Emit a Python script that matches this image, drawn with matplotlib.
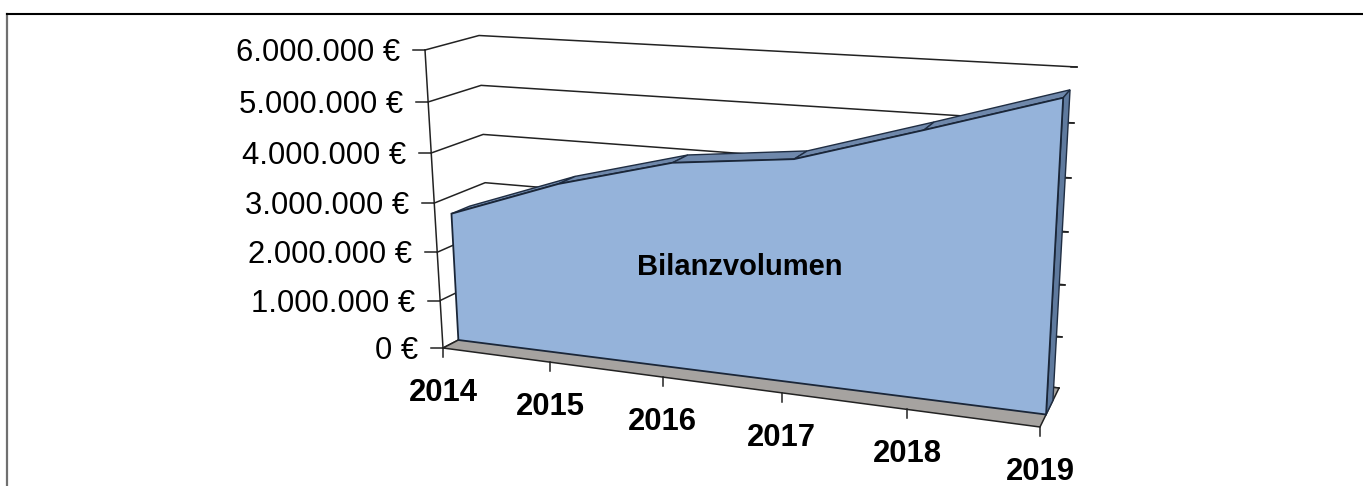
import numpy as np
from matplotlib import pyplot as plt

years=['2014','2015','2016','2017','2018','2019']
values=[2650000,3450000,4050000,4300000,5000000,5720000]
yticks=[0,1000000,2000000,3000000,4000000,5000000,6000000]
ylabels=['0 €','1.000.000 €','2.000.000 €','3.000.000 €','4.000.000 €','5.000.000 €','6.000.000 €']
series='Bilanzvolumen'

plt.rcParams['font.family']=['Liberation Sans','DejaVu Sans']

def homography(px):
  # unit square -> pixel quad
  src=[(0,0),(1,0),(0,1),(1,1)]
  a=[]
  b=[]
  for (u,v),(x,y) in zip(src,px):
    a.append([u,v,1,0,0,0,-u*x,-v*x])
    a.append([0,0,0,u,v,1,-u*y,-v*y])
    b+=[x,y]
  h=np.linalg.solve(np.array(a,float),np.array(b,float))
  return np.append(h,1).reshape(3,3)

# box corners in pixels: (2014,0) (2019,0) (2014,top) (2019,top)
front=homography([(443,348),(1040,427),(425,50),(1058,88)])
back=homography([(491,323),(1059,388),(479,35.5),(1077,67)])
vmax=yticks[-1]
nx=len(years)-1

def proj(i,v,d=0):
  p=np.array([i/nx,v/vmax,1.0])
  f=front@p
  g=back@p
  f=f[:2]/f[2]
  g=g[:2]/g[2]
  return tuple((1-d)*f+d*g)

fig=plt.figure(figsize=(13.63,4.86),dpi=100)
ax=fig.add_axes([0,0,1,1])
ax.set_xlim(0,1363)
ax.set_ylim(486,0)
ax.axis('off')

# outer frame, no right side in the reference
ax.plot([7,7],[486,14.5],color='#707070',lw=1.6)
ax.plot([7,1363],[14.5,14.5],color='black',lw=1.5)

line='#222222'
# gridlines and left wall
for t,lab in zip(yticks,ylabels):
  a=proj(0,t,0)
  b=proj(0,t,1)
  c=proj(nx,t,1)
  ax.plot([a[0],b[0],c[0]],[a[1],b[1],c[1]],color=line,lw=1.1,zorder=2)
  ax.plot([a[0]-12,a[0]],[a[1],a[1]],color=line,lw=1.1,zorder=2)
  ax.plot([c[0]-6,c[0]],[c[1],c[1]],color=line,lw=1.1,zorder=2)
  ax.text(a[0]-25,a[1]+3,lab,ha='right',va='center',fontsize=22.3,color='black')
a=proj(0,0,0)
b=proj(0,vmax,0)
ax.plot([a[0],b[0]],[a[1],b[1]],color=line,lw=1.1,zorder=2)

# floor
floor=[proj(0,0,0),proj(nx,0,0),proj(nx,0,1),proj(0,0,1)]
ax.fill(*zip(*floor),facecolor='#A6A3A0',edgecolor=line,lw=1.1,zorder=3)
for i,y in enumerate(years):
  p=proj(i,0,0)
  ax.plot([p[0],p[0]],[p[1],p[1]+9],color=line,lw=1.1,zorder=3)
  ax.text(p[0],p[1]+45,y,ha='center',va='center',fontsize=22.3,fontweight='bold')

# area: top faces, right side, front
da,db=0.32,0.68
top='#6F88AB'
for i in range(nx):
  q=[proj(i,values[i],da),proj(i+1,values[i+1],da),proj(i+1,values[i+1],db),proj(i,values[i],db)]
  ax.fill(*zip(*q),facecolor=top,edgecolor='#1F2D42',lw=1.0,zorder=4)
side=[proj(nx,0,da),proj(nx,values[-1],da),proj(nx,values[-1],db),proj(nx,0,db)]
ax.fill(*zip(*side),facecolor='#5F7A9E',edgecolor='#1F2D42',lw=1.0,zorder=4)
outline=[proj(0,0,da)]+[proj(i,v,da) for i,v in enumerate(values)]+[proj(nx,0,da)]
ax.fill(*zip(*outline),facecolor='#95B3DA',edgecolor='#1A2638',lw=1.3,zorder=5)

ax.text(740,267,series,ha='center',va='center',fontsize=21,fontweight='bold',zorder=6)

fig.savefig('out.png',dpi=100)
